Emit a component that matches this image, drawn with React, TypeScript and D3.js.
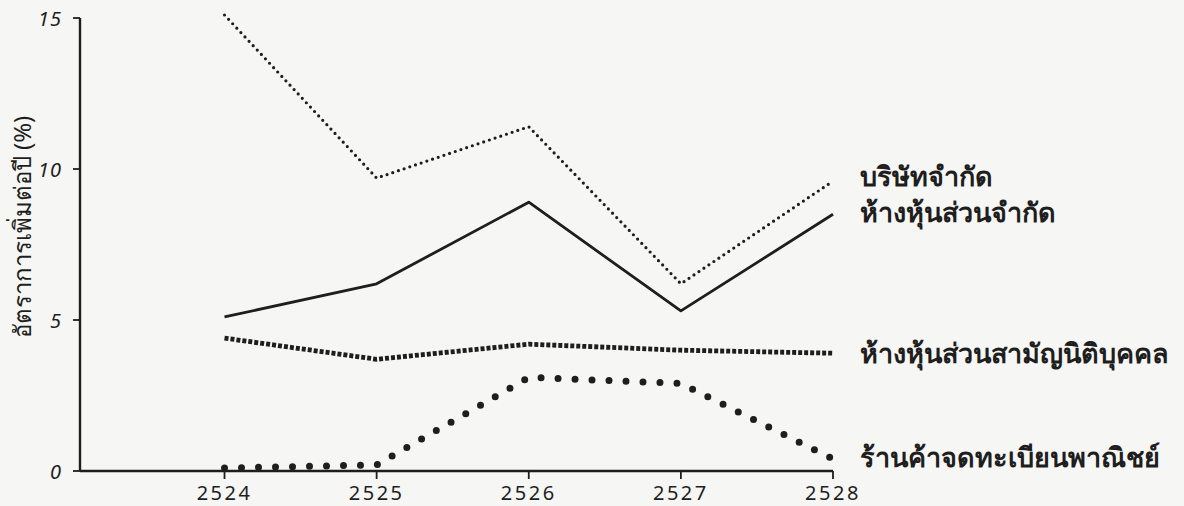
import React from "react";
import * as d3 from "d3";

const years = [2524, 2525, 2526, 2527, 2528];
const companyLtd = [15.1, 9.7, 11.4, 6.2, 9.6];
const limitedPartnership = [5.1, 6.2, 8.9, 5.3, 8.5];
const registeredPartnership = [4.4, 3.7, 4.2, 4.0, 3.9];
const registeredShops = [0.1, 0.2, 3.1, 2.9, 0.4];
const yTicks = [0, 5, 10, 15];
const seriesNames = [
  "บริษัทจำกัด",
  "ห้างหุ้นส่วนจำกัด",
  "ห้างหุ้นส่วนสามัญนิติบุคคล",
  "ร้านค้าจดทะเบียนพาณิชย์",
];
const yTitle = "อัตราการเพิ่มต่อปี (%)";

const W = 1184;
const H = 506;
const ink = "#1e1e1e";
const font = "'Noto Sans', 'DejaVu Sans', sans-serif";

export default function App() {
  const x = d3.scaleLinear().domain([2523.05, 2528]).range([80, 833]);
  const y = d3.scaleLinear().domain([0, 15]).range([471, 18]);
  const line = d3
    .line<number>()
    .x((_, i) => x(years[i]))
    .y((d) => y(d));

  const styles = [
    { data: companyLtd, dash: "0 6", width: 3.2, cap: "round" as const, labelY: 175 },
    { data: limitedPartnership, dash: "none", width: 2.8, cap: "butt" as const, labelY: 211 },
    { data: registeredPartnership, dash: "4 2", width: 4.8, cap: "butt" as const, labelY: 352 },
    { data: registeredShops, dash: "0 17", width: 7, cap: "round" as const, labelY: 456 },
  ];

  return (
    <svg
      width={W}
      height={H}
      style={{ position: "absolute", left: 0, top: 0, background: "#f6f6f4" }}
    >
      <rect x={0} y={0} width={W} height={H} fill="#f6f6f4" />
      <line x1={x.range()[0]} x2={x.range()[0]} y1={y(15)} y2={y(0)} stroke={ink} strokeWidth={2.4} />
      <line x1={x.range()[0]} x2={x.range()[1]} y1={y(0)} y2={y(0)} stroke={ink} strokeWidth={2.4} />
      {yTicks.map((t) => (
        <g key={t}>
          <line x1={x.range()[0] - 7} x2={x.range()[0]} y1={y(t)} y2={y(t)} stroke={ink} strokeWidth={1.8} />
          <text
            x={x.range()[0] - 18}
            y={y(t)}
            textAnchor="end"
            dominantBaseline="central"
            fontFamily={font}
            fontSize={20}
            fontStyle="italic"
            letterSpacing={1}
            fill={ink}
          >
            {t}
          </text>
        </g>
      ))}
      {years.map((yr) => (
        <g key={yr}>
          <line x1={x(yr)} x2={x(yr)} y1={y(0)} y2={y(0) + 8} stroke={ink} strokeWidth={1.8} />
          <text
            x={x(yr)}
            y={500}
            textAnchor="middle"
            fontFamily={font}
            fontSize={20}
            letterSpacing={2.5}
            fill={ink}
          >
            {yr}
          </text>
        </g>
      ))}
      <text
        transform={`translate(21, 227) rotate(-90)`}
        textAnchor="middle"
        dominantBaseline="central"
        fontFamily={font}
        fontSize={24}
        fill={ink}
      >
        {yTitle}
      </text>
      {styles.map((s, i) => (
        <g key={i}>
          <path
            d={line(s.data) || ""}
            fill="none"
            stroke={ink}
            strokeWidth={s.width}
            strokeDasharray={s.dash}
            strokeLinecap={s.cap}
            strokeLinejoin="round"
          />
          <text
            x={860}
            y={s.labelY}
            dominantBaseline="central"
            fontFamily={font}
            fontSize={27}
            fontWeight={600}
            fill={ink}
          >
            {seriesNames[i]}
          </text>
        </g>
      ))}
    </svg>
  );
}
